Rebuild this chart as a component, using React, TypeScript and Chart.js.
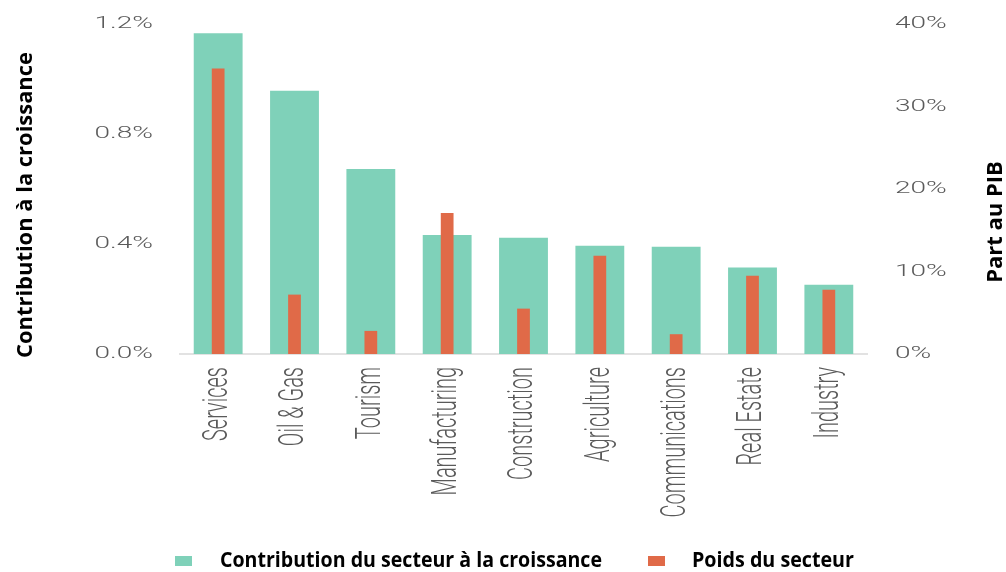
import React, { useEffect, useRef } from "react";
import { Chart, registerables } from "chart.js";

Chart.register(...registerables);

// ---- data ----
const categories = [
  "Services",
  "Oil & Gas",
  "Tourism",
  "Manufacturing",
  "Construction",
  "Agriculture",
  "Communications",
  "Real Estate",
  "Industry",
];
const contribution = [1.166, 0.957, 0.673, 0.433, 0.423, 0.394, 0.39, 0.315, 0.252];
const weight = [34.6, 7.2, 2.8, 17.1, 5.5, 11.9, 2.4, 9.5, 7.8];
const leftTickValues = [0, 0.4, 0.8, 1.2];
const rightTickValues = [0, 10, 20, 30, 40];
const seriesNames = ["Contribution du secteur à la croissance", "Poids du secteur"];
const leftTitle = "Contribution à la croissance";
const rightTitle = "Part au PIB";

// ---- styles ----
const GREEN = "#7fd1b9";
const ORANGE = "#e06a48";
const TICK_COLOR = "#5a5a5a";
const TICK_FONT = "300 16px Roboto";
const XTICK_FONT = "300 20px Roboto";
const TITLE_FONT = "bold 22px 'Open Sans'";
const LEGEND_FONT = "bold 21px 'Open Sans'";
const SX = 1.75;

const customText = {
  id: "customText",
  afterDraw(chart: any) {
    const ctx = chart.ctx as CanvasRenderingContext2D;
    const area = chart.chartArea;
    const yL = chart.scales.y;
    const yR = chart.scales.y1;
    const xs = chart.scales.x;
    ctx.save();
    ctx.fillStyle = TICK_COLOR;
    ctx.textBaseline = "middle";

    // left ticks
    ctx.font = TICK_FONT;
    yL.ticks.forEach((t: any, i: number) => {
      const py = yL.getPixelForTick(i);
      ctx.save();
      ctx.translate(area.left - 27, py);
      ctx.scale(SX, 1);
      ctx.textAlign = "right";
      ctx.fillText(String(t.label), 0, 0);
      ctx.restore();
    });
    // right ticks
    yR.ticks.forEach((t: any, i: number) => {
      const py = yR.getPixelForTick(i);
      ctx.save();
      ctx.translate(area.right + 28, py);
      ctx.scale(SX, 1);
      ctx.textAlign = "left";
      ctx.fillText(String(t.label), 0, 0);
      ctx.restore();
    });
    // x ticks (rotated)
    ctx.font = XTICK_FONT;
    xs.ticks.forEach((t: any, i: number) => {
      const px = xs.getPixelForTick(i);
      ctx.save();
      ctx.translate(px, area.bottom + 13);
      ctx.scale(SX, 1);
      ctx.rotate(-Math.PI / 2);
      ctx.textAlign = "right";
      ctx.fillText(String(t.label), 0, 0);
      ctx.restore();
    });

    // axis titles
    ctx.fillStyle = "#000";
    ctx.font = TITLE_FONT;
    ctx.textAlign = "center";
    ctx.save();
    ctx.translate(26, 205);
    ctx.rotate(-Math.PI / 2);
    ctx.fillText(leftTitle, 0, 0, 306);
    ctx.restore();
    ctx.save();
    ctx.translate(996, 222);
    ctx.rotate(-Math.PI / 2);
    ctx.fillText(rightTitle, 0, 0, 136);
    ctx.restore();

    // legend
    ctx.font = LEGEND_FONT;
    const legendY = 561;
    const items = chart.data.datasets.map((d: any) => ({ label: d.label, color: d.backgroundColor }));
    const boxX = [175, 648];
    const textX = [220, 692];
    const maxW = [382, 162];
    ctx.textAlign = "left";
    items.forEach((it: any, i: number) => {
      ctx.fillStyle = it.color;
      ctx.fillRect(boxX[i], legendY - 5, 17, 10);
      ctx.fillStyle = "#000";
      ctx.fillText(it.label, textX[i], legendY, maxW[i]);
    });
    ctx.restore();
  },
};

export default function App() {
  const ref = useRef<HTMLCanvasElement | null>(null);
  useEffect(() => {
    document.body.style.margin = "0";
    const canvas = ref.current!;
    const chart = new Chart(canvas, {
      type: "bar",
      data: {
        labels: categories,
        datasets: [
          {
            label: seriesNames[0],
            data: contribution,
            backgroundColor: GREEN,
            yAxisID: "y",
            grouped: false,
            barPercentage: 0.64,
            categoryPercentage: 1,
            order: 2,
          } as any,
          {
            label: seriesNames[1],
            data: weight,
            backgroundColor: ORANGE,
            yAxisID: "y1",
            grouped: false,
            barPercentage: 0.167,
            categoryPercentage: 1,
            order: 1,
          } as any,
        ],
      },
      options: {
        responsive: false,
        animation: false,
        layout: { padding: { top: 24, left: 0, right: 0, bottom: 0 } },
        plugins: { legend: { display: false }, tooltip: { enabled: false } },
        scales: {
          x: {
            grid: { display: false },
            border: { display: true, color: "#e2e2e2", width: 2 },
            ticks: { display: false },
            afterFit: (s: any) => {
              s.height = 218;
            },
          },
          y: {
            position: "left",
            min: 0,
            max: 1.2,
            grid: { display: false },
            border: { display: false },
            ticks: { display: false, callback: (v: any) => Number(v).toFixed(1) + "%" },
            afterBuildTicks: (s: any) => {
              s.ticks = leftTickValues.map((v) => ({ value: v }));
            },
            afterFit: (s: any) => {
              s.width = 180;
            },
          },
          y1: {
            position: "right",
            min: 0,
            max: 40,
            grid: { display: false },
            border: { display: false },
            ticks: { display: false, callback: (v: any) => Number(v) + "%" },
            afterBuildTicks: (s: any) => {
              s.ticks = rightTickValues.map((v) => ({ value: v }));
            },
            afterFit: (s: any) => {
              s.width = 139;
            },
          },
        },
      } as any,
      plugins: [customText],
    });
    return () => chart.destroy();
  }, []);
  return (
    <div style={{ position: "fixed", left: 0, top: 0, width: 1006, height: 572, background: "#fff" }}>
      <canvas ref={ref} width={1006} height={572} style={{ display: "block" }} />
    </div>
  );
}
